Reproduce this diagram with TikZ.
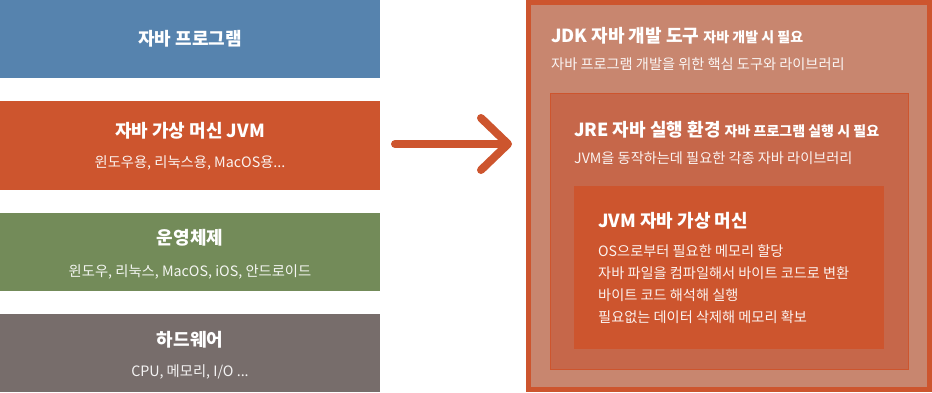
\documentclass[tikz,border=0pt]{standalone}
\usepackage{fontspec}
\setmainfont{Noto Sans CJK KR}
\usetikzlibrary{positioning, arrows.meta}
\definecolor{progblue}{HTML}{5683AE}
\definecolor{jvmred}{HTML}{CD552E}
\definecolor{osgreen}{HTML}{738B59}
\definecolor{hwgray}{HTML}{776D6B}
\definecolor{jdkfill}{HTML}{C8866F}
\definecolor{jrefill}{HTML}{C6674A}
\tikzset{
  layer/.style = {rectangle, inner sep=0pt, outer sep=0pt, minimum width=380pt, minimum height=78pt},
  ttl/.style = {inner sep=0pt, text=white, font=\bfseries\fontsize{18}{22}\selectfont},
  subttl/.style = {inner sep=0pt, text=white, text opacity=0.92, font=\fontsize{14.3}{16}\selectfont},
  desc/.style = {inner sep=0pt, text=white, text opacity=0.92, align=left, font=\fontsize{14.2}{22}\selectfont},
  bigarrow/.style = {draw=jvmred, line width=8pt, line cap=round, -{Straight Barb[length=27pt, width=52pt, round]}}
}
\newcommand{\smallbold}[1]{{\fontsize{14}{16}\selectfont #1}}

\begin{document}
\begin{tikzpicture}[x=1pt, y=-1pt, node distance=23pt]
\useasboundingbox (0,0) rectangle (932,392);

% left: layered stack
\node[layer, fill=progblue] (prog) at (190,39) {};
\node[layer, fill=jvmred, minimum height=89pt, below=of prog] (jvm) {};
\node[layer, fill=osgreen, below=of jvm] (os) {};
\node[layer, fill=hwgray, below=of os] (hw) {};

\node[ttl] (progT) at (190,39) {자바 프로그램};
\node[ttl] (jvmT) at (190,131) {자바 가상 머신 JVM};
\node[subttl] (jvmS) at (190,163) {윈도우용, 리눅스용, MacOS용...};
\node[ttl] (osT) at (190,238) {운영체제};
\node[subttl] (osS) at (190,272) {윈도우, 리눅스, MacOS, iOS, 안드로이드};
\node[ttl] (hwT) at (190,340) {하드웨어};
\node[subttl] (hwS) at (190,372) {CPU, 메모리, I/O ...};

% right: JDK > JRE > JVM
\node[draw=jvmred, line width=5pt, fill=jdkfill, minimum width=401pt, minimum height=387pt] (jdk) at (729,196) {};
\node[draw=jvmred, line width=1pt, fill=jrefill, minimum width=358pt, minimum height=276pt] (jre) at (729,231) {};
\node[fill=jvmred, minimum width=310pt, minimum height=163pt] (vm) at (729,267.5) {};

\node[ttl, anchor=west] (jdkT) at (551,36) {JDK 자바 개발 도구 \smallbold{자바 개발 시 필요}};
\node[desc, anchor=west] (jdkD) at (551,64) {자바 프로그램 개발을 위한 핵심 도구와 라이브러리};
\node[ttl, anchor=west] (jreT) at (574,129.5) {JRE 자바 실행 환경 \smallbold{자바 프로그램 실행 시 필요}};
\node[desc, anchor=west] (jreD) at (574,158) {JVM을 동작하는데 필요한 각종 자바 라이브러리};
\node[ttl, anchor=west] (vmT) at (598,221) {JVM 자바 가상 머신};
\node[desc, anchor=north west] (vmD) at (598,244.5) {OS으로부터 필요한 메모리 할당\\자바 파일을 컴파일해서 바이트 코드로 변환\\바이트 코드 해석해 실행\\필요없는 데이터 삭제해 메모리 확보};

% arrow between the two halves
\coordinate (arrowS) at (395,144);
\coordinate (arrowE) at (512,144);
\draw[bigarrow] (arrowS) -- (arrowE);
\end{tikzpicture}
\end{document}
